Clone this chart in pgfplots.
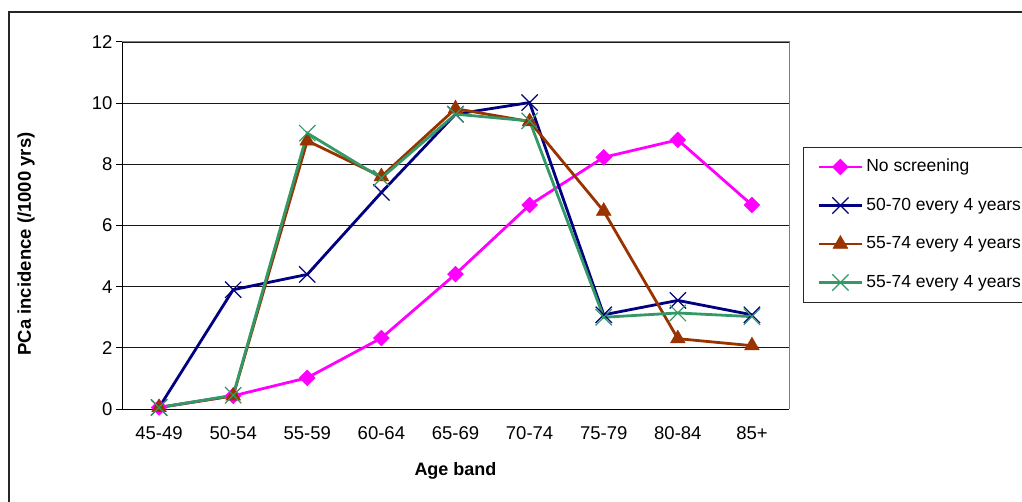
\documentclass[border=0pt]{standalone}
\usepackage{fontspec}
\setmainfont{Liberation Sans}
\usepackage{pgfplots}
\pgfplotsset{compat=1.18}

\definecolor{nsPink}{RGB}{255,0,255}
\definecolor{navyBlue}{RGB}{0,0,128}
\definecolor{rust}{RGB}{153,51,0}
\definecolor{seaGreen}{RGB}{51,153,102}

% incidence per 1000 person-years, age bands 45-49 ... 85+ at x = 0..8
\pgfplotstableread{
x  noscr  a5070  b5574  c5574
0  0.05   0.05   0.05   0.05
1  0.43   3.90   0.43   0.45
2  1.02   4.40   8.77   9.02
3  2.32   7.08   7.60   7.55
4  4.41   9.64   9.82   9.64
5  6.67   10.02  9.40   9.42
6  8.23   3.08   6.47   3.00
7  8.80   3.55   2.30   3.14
8  6.67   3.08   2.07   3.02
}\incidence

\begin{document}
\begin{tikzpicture}[x=1pt,y=1pt]
\useasboundingbox (0,0) rectangle (1022,501);
% chart frame
\draw[line width=1.3pt, black!85] (9,-20) -- (9,489) -- (1040,489);
\begin{axis}[
  at={(122pt,92pt)}, anchor=south west,
  scale only axis, width=667pt, height=367pt,
  xmin=-0.5, xmax=8.5, ymin=0, ymax=12,
  clip=false,
  axis x line*=bottom, axis y line*=left,
  axis line style={-, black, line width=1pt},
  xtick={0,...,8},
  xticklabels={45-49,50-54,55-59,60-64,65-69,70-74,75-79,80-84,85+},
  minor xtick={-0.5,0.5,...,8.5},
  ytick={0,2,...,12},
  tick align=outside,
  major tick length=6pt, minor tick length=6pt,
  xtick style={draw=none},
  minor x tick style={black, line width=1pt},
  ytick style={black, line width=1pt},
  ymajorgrids,
  major grid style={black!90, line width=0.8pt},
  tick label style={font=\fontsize{18.5}{21}\selectfont},
  /pgf/number format/assume math mode=true,
  xticklabel style={yshift=-8pt},
  xlabel={Age band},
  xlabel style={font=\fontsize{18}{21}\selectfont\bfseries,
    at={(axis description cs:0.5,0)}, anchor=center, yshift=-62pt},
  ylabel={PCa incidence (/1000 yrs)},
  ylabel style={font=\fontsize{18.5}{21}\selectfont\bfseries,
    at={(axis description cs:0,0.4496)}, anchor=center, yshift=96pt},
  legend cell align=left,
  legend style={
    at={(axis description cs:1.021,0.7139)}, anchor=north west,
    draw=black!85, line width=1pt,
    font=\fontsize{17.5}{21}\selectfont,
    inner xsep=14pt, inner ysep=11pt,
    row sep=21.5pt, column sep=3pt,
    nodes={inner sep=0pt, text height=13pt, text depth=4pt},
  },
  legend image code/.code={
    \draw[mark repeat=2,mark phase=2,#1]
      plot coordinates {(0pt,0pt) (21.5pt,0pt) (43pt,0pt)};
  },
]
\addplot[nsPink, line width=2.8pt, mark=square*,
  mark options={rotate=45, line width=0.5pt, fill=nsPink}, mark size=5.6pt]
  table[x=x, y=noscr] {\incidence};
\addlegendentry{No screening}
\addplot[navyBlue, line width=2.8pt, mark=x,
  mark options={line width=1.2pt}, mark size=11.5pt]
  table[x=x, y=a5070] {\incidence};
\addlegendentry{50-70 every 4 years}
\addplot[rust, line width=2.8pt, mark=triangle*,
  mark options={line width=0.5pt, fill=rust}, mark size=8.5pt]
  table[x=x, y=b5574] {\incidence};
\addlegendentry{55-74 every 4 years}
\addplot[seaGreen, line width=2.8pt, mark=x,
  mark options={line width=1.2pt}, mark size=11.5pt]
  table[x=x, y=c5574] {\incidence};
\addlegendentry{55-74 every 4 years}
% plot-area border on the top and right
\draw[black!50, line width=1pt]
  (rel axis cs:0,1) -- (rel axis cs:1,1) -- (rel axis cs:1,0);
\end{axis}
\end{tikzpicture}
\end{document}
